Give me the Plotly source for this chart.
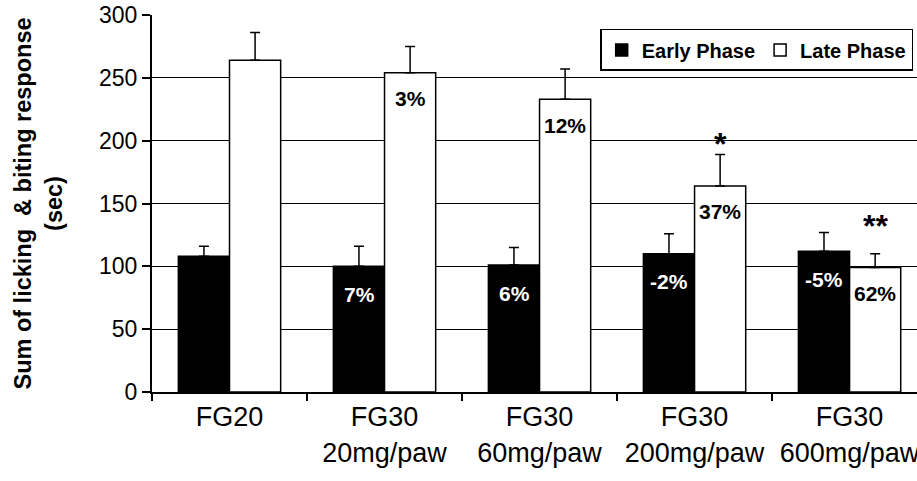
import plotly.graph_objects as go

categories = ["FG20", "FG30<br>20mg/paw", "FG30<br>60mg/paw", "FG30<br>200mg/paw", "FG30<br>600mg/paw"]
early = [108, 100, 101, 110, 112]
early_err = [8, 16, 14, 16, 15]
late = [264, 254, 233, 164, 99]
late_err = [22, 21, 24, 25, 11]
early_pct = ["", "7%", "6%", "-2%", "-5%"]
late_pct = ["", "3%", "12%", "37%", "62%"]
late_sig = ["", "", "", "*", "**"]
sig_shift = [0, 0, 0, -10, 8]
y_ticks = [0, 50, 100, 150, 200, 250, 300]

FONT = "Liberation Sans, Arial, sans-serif"

fig = go.Figure()
fig.add_trace(go.Bar(
    name="Early Phase", x=categories, y=early,
    marker=dict(color="black", line=dict(color="black", width=1.5)),
    error_y=dict(type="data", array=early_err, arrayminus=[0] * 5, symmetric=False,
                 color="black", thickness=1.5, width=5),
))
fig.add_trace(go.Bar(
    name="Late Phase", x=categories, y=late,
    marker=dict(color="white", line=dict(color="black", width=1.5)),
    error_y=dict(type="data", array=late_err, arrayminus=[0] * 5, symmetric=False,
                 color="black", thickness=1.5, width=5),
))

annotations = []
for i, c in enumerate(categories):
    if early_pct[i]:
        annotations.append(dict(x=c, y=early[i], text=early_pct[i], showarrow=False,
                                xshift=-25.5, yshift=-28, yanchor="middle",
                                font=dict(family=FONT, size=21, color="white", weight="bold")))
    if late_pct[i]:
        annotations.append(dict(x=c, y=late[i], text=late_pct[i], showarrow=False,
                                xshift=25.5, yshift=-26, yanchor="middle",
                                font=dict(family=FONT, size=21, color="black", weight="bold")))
    if late_sig[i]:
        annotations.append(dict(x=c, y=late[i] + late_err[i], text=late_sig[i], showarrow=False,
                                xshift=25.5, yshift=sig_shift[i], yanchor="bottom",
                                font=dict(family=FONT, size=32, color="black", weight="bold")))

fig.update_layout(
    width=917, height=481,
    margin=dict(l=152, r=0, t=15, b=89),
    paper_bgcolor="white", plot_bgcolor="white",
    barmode="group", bargap=0.34, bargroupgap=0,
    font=dict(family=FONT, color="black"),
    showlegend=True,
    legend=dict(orientation="h", x=0.995, xanchor="right", y=0.963, yanchor="top",
                bordercolor="black", borderwidth=1.5, bgcolor="white",
                font=dict(family=FONT, size=20, color="black", weight="bold"),
                traceorder="normal"),
    annotations=annotations,
)
fig.update_xaxes(
    range=[-0.5, 4.435], showline=True, linecolor="black", linewidth=2,
    ticks="outside", tickson="boundaries", ticklen=7, tickwidth=1.5, tickcolor="black",
    tickfont=dict(family=FONT, size=27, color="black"), showgrid=False,
    ticklabeloverflow="allow", automargin=False,
)
fig.update_yaxes(
    range=[0, 300], tickvals=y_ticks, showline=True, linecolor="black", linewidth=2,
    ticks="outside", ticklen=8, tickwidth=1.5, tickcolor="black",
    tickfont=dict(family=FONT, size=23, color="black"), ticklabeloverflow="allow",
    automargin=False,
    showgrid=True, gridcolor="black", gridwidth=1, zeroline=False,
    title=dict(text="Sum of licking  & biting response<br>(sec)", standoff=30,
               font=dict(family=FONT, size=23.5, color="black", weight="bold")),
)

fig.write_html("out.html", config={"displayModeBar": False},
               post_script="document.body.style.margin='0';")
